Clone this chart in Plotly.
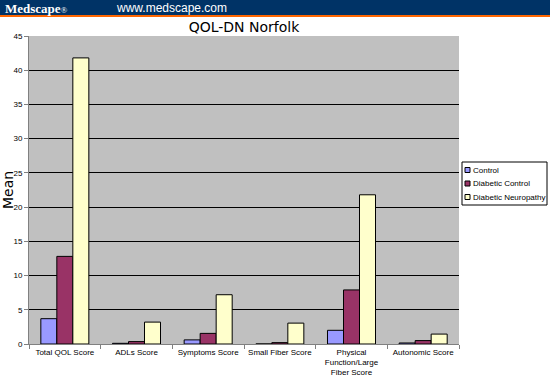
import plotly.graph_objects as go

categories = ["Total QOL Score", "ADLs Score", "Symptoms Score", "Small Fiber Score",
              "Physical<br>Function/Large<br>Fiber Score", "Autonomic Score"]
series_names = ["Control", "Diabetic Control", "Diabetic Neuropathy"]
control = [3.7, 0.1, 0.6, 0.0, 2.0, 0.15]
diabetic_control = [12.8, 0.35, 1.55, 0.2, 7.9, 0.5]
diabetic_neuropathy = [41.8, 3.2, 7.2, 3.05, 21.8, 1.45]
y_ticks = [0, 5, 10, 15, 20, 25, 30, 35, 40, 45]
colors = ["#9999FF", "#993366", "#FFFFCC"]

W, H = 550, 384
L, R, T, B = 29, 459, 36, 344
pw, ph = R - L, B - T

def px(x):
    return (x - L) / pw

def py(y):
    return (B - y) / ph

fig = go.Figure()
for name, vals, col in zip(series_names, [control, diabetic_control, diabetic_neuropathy], colors):
    fig.add_trace(go.Bar(x=categories, y=vals, name=name,
                         marker=dict(color=col, line=dict(color="black", width=1))))

shapes = [
    dict(type="rect", xref="paper", yref="paper", x0=px(0), x1=px(W),
         y0=py(15), y1=py(0), fillcolor="#003366", line=dict(width=0), layer="above"),
    dict(type="rect", xref="paper", yref="paper", x0=px(0), x1=px(W),
         y0=py(17), y1=py(15), fillcolor="#FF6600", line=dict(width=0), layer="above"),
    # legend box
    dict(type="rect", xref="paper", yref="paper", x0=px(462), x1=px(547),
         y0=py(205), y1=py(162), fillcolor="white", line=dict(color="black", width=1),
         layer="above"),
]
annotations = [
    dict(text="<b>Medscape</b><span style='font-size:9px'>®</span>", xref="paper", yref="paper",
         x=px(3), y=py(8), xanchor="left", yanchor="middle", showarrow=False,
         font=dict(family="Liberation Serif, Times New Roman, serif", size=13, color="white")),
    dict(text="www.medscape.com", xref="paper", yref="paper", x=px(114), y=py(8),
         xanchor="left", yanchor="middle", showarrow=False,
         font=dict(family="Liberation Sans, Arial, sans-serif", size=12, color="white")),
]
for i, (name, col) in enumerate(zip(series_names, colors)):
    cy = 170 + i * 13.5
    shapes.append(dict(type="rect", xref="paper", yref="paper",
                       x0=px(465), x1=px(470), y0=py(cy + 2.5), y1=py(cy - 2.5),
                       fillcolor=col, line=dict(color="black", width=1), layer="above"))
    annotations.append(dict(text=name, xref="paper", yref="paper", x=px(471), y=py(cy),
                            xanchor="left", yanchor="middle", showarrow=False,
                            font=dict(family="Liberation Sans, Arial, sans-serif", size=8,
                                      color="black")))

fig.update_layout(
    width=W, height=H,
    margin=dict(l=L, r=W - R, t=T, b=H - B, pad=0, autoexpand=False),
    paper_bgcolor="white", plot_bgcolor="#C0C0C0",
    barmode="group", bargap=0.33, bargroupgap=0,
    font=dict(family="Liberation Sans, Arial, sans-serif", size=9, color="black"),
    showlegend=False,
    title=dict(text="QOL-DN Norfolk", x=(L + R) / 2 / W, xanchor="center",
               y=1 - 27 / H, yanchor="middle",
               font=dict(family="DejaVu Sans, Verdana, sans-serif", size=14, color="black")),
    xaxis=dict(showgrid=False, ticks="outside", tickson="boundaries", ticklen=4,
               tickcolor="#808080", showline=True, linecolor="#808080", linewidth=1,
               tickfont=dict(size=8), tickangle=0, range=[-0.5, 5.5], automargin=False),
    yaxis=dict(range=[0, 45], tickvals=y_ticks, showgrid=True, gridcolor="black",
               gridwidth=1, ticks="outside", ticklen=4, tickcolor="#808080",
               showline=True, linecolor="#808080", linewidth=1, zeroline=False,
               tickfont=dict(size=8), automargin=False,
               title=dict(text="Mean", standoff=2,
                          font=dict(family="DejaVu Sans, Verdana, sans-serif", size=14))),
    shapes=shapes,
    annotations=annotations,
)

fig.write_html("out.html", config={"displayModeBar": False},
               post_script="document.body.style.margin='0';")
